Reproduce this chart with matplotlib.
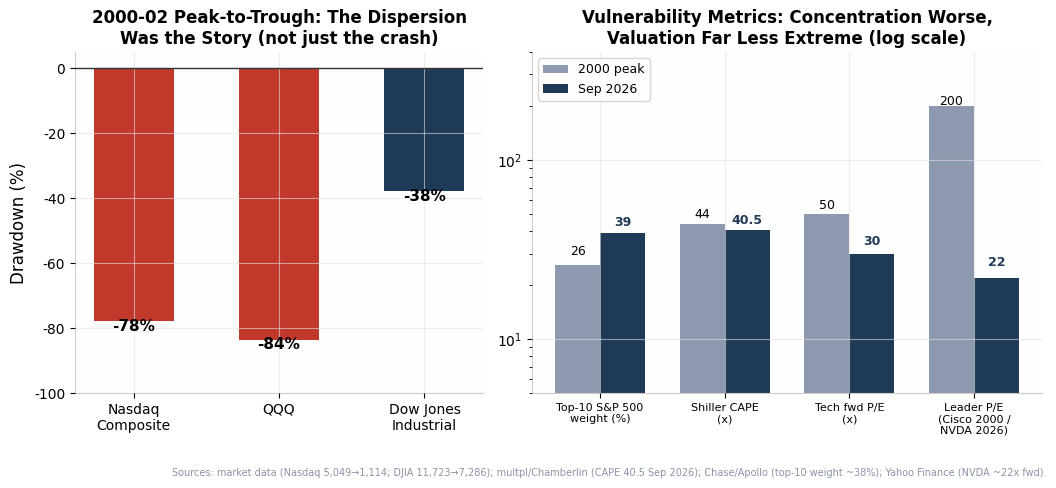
import matplotlib
matplotlib.use("Agg")
import matplotlib.pyplot as plt
import numpy as np

plt.rcParams['font.family'] = ['DejaVu Sans']
plt.rcParams['axes.unicode_minus'] = False

# ---- data ----
dd_labels = ["Nasdaq\nComposite", "QQQ", "Dow Jones\nIndustrial"]
dd_values = [-77.9, -83.6, -37.8]
dd_colors = ["#c0392b", "#c0392b", "#1f3a56"]

metric_labels = ["Top-10 S&P 500\nweight (%)", "Shiller CAPE\n(x)", "Tech fwd P/E\n(x)",
                 "Leader P/E\n(Cisco 2000 /\nNVDA 2026)"]
peak_2000 = [26, 44, 50, 200]
sep_2026 = [39, 40.5, 30, 22]
peak_text = ["26", "44", "50", "200"]
sep_text = ["39", "40.5", "30", "22"]

footnote = ("Sources: market data (Nasdaq 5,049\u21921,114; DJIA 11,723\u21927,286); "
            "multpl/Chamberlin (CAPE 40.5 Sep 2026); Chase/Apollo (top-10 weight ~38%); "
            "Yahoo Finance (NVDA ~22x fwd).")

NAVY = "#1f3a56"
GRAYBLUE = "#8d99ae"
FACE = "#fefefe"

fig = plt.figure(figsize=(10.56, 4.88), dpi=100)
ax1 = fig.add_axes([75 / 1056, 1 - 393 / 488, 408 / 1056, 341 / 488])
ax2 = fig.add_axes([532 / 1056, 1 - 393 / 488, 510 / 1056, 341 / 488])

for ax in (ax1, ax2):
    ax.set_facecolor(FACE)
    for s in ("top", "right"):
        ax.spines[s].set_visible(False)
    for s in ("left", "bottom"):
        ax.spines[s].set_color("#cccccc")
    ax.set_axisbelow(False)
    ax.grid(True, color="#e0e0e0", alpha=0.6, linewidth=0.8)

# ---- left chart ----
x1 = np.arange(len(dd_values))
ax1.bar(x1, dd_values, width=0.55, color=dd_colors, zorder=1)
ax1.axhline(0, color="#333333", linewidth=1, zorder=3)
for xi, v in zip(x1, dd_values):
    ax1.text(xi, v - 1.6, f"{v:.0f}%", ha="center", va="center",
             fontsize=11, fontweight="bold", color="black", zorder=4)
ax1.set_ylim(-100, 5)
ax1.set_yticks([0, -20, -40, -60, -80, -100])
ax1.set_xticks(x1)
ax1.set_xticklabels(dd_labels, fontsize=10)
ax1.tick_params(axis="y", labelsize=10)
ax1.set_ylabel("Drawdown (%)", fontsize=12)
ax1.set_title("2000-02 Peak-to-Trough: The Dispersion\nWas the Story (not just the crash)",
              fontsize=12, fontweight="bold")

# ---- right chart ----
x2 = np.arange(len(metric_labels))
w = 0.36
ax2.bar(x2 - w / 2, peak_2000, width=w, color=GRAYBLUE, label="2000 peak", zorder=1)
ax2.bar(x2 + w / 2, sep_2026, width=w, color=NAVY, label="Sep 2026", zorder=1)
ax2.set_yscale("log")
ax2.set_ylim(5, 400)
for xi, v, t in zip(x2, peak_2000, peak_text):
    ax2.text(xi - w / 2, v + 3.5, t, ha="center", va="baseline", fontsize=9, color="black")
for xi, v, t in zip(x2, sep_2026, sep_text):
    ax2.text(xi + w / 2, v + 3.5, t, ha="center", va="baseline", fontsize=9,
             fontweight="bold", color=NAVY)
ax2.set_xticks(x2)
ax2.set_xticklabels(metric_labels, fontsize=8)
ax2.tick_params(axis="y", labelsize=10)
ax2.legend(loc="upper left", fontsize=9)
ax2.set_title("Vulnerability Metrics: Concentration Worse,\nValuation Far Less Extreme (log scale)",
              fontsize=12, fontweight="bold")

fig.text(1046 / 1056, 1 - 473 / 488, footnote, ha="right", va="center",
         fontsize=7, color="#8a94a8")

fig.savefig("out.png", dpi=100)
